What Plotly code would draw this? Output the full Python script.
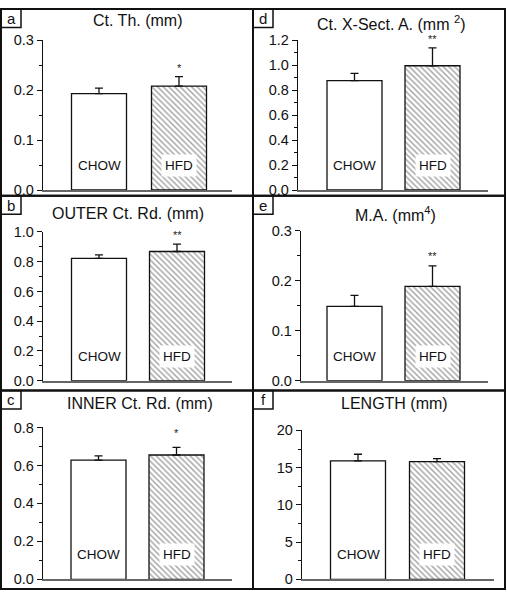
import plotly.graph_objects as go

W, H = 507, 599

categories = ["CHOW", "HFD"]
letters = ["a", "b", "c", "d", "e", "f"]
titles = ["Ct. Th. (mm)", "OUTER Ct. Rd. (mm)", "INNER Ct. Rd. (mm)",
          "Ct. X-Sect. A. (mm <sup>2</sup>)", "M.A. (mm<sup>4</sup>)", "LENGTH (mm)"]
chow_mean = [0.193, 0.822, 0.628, 0.875, 0.149, 15.9]
hfd_mean = [0.208, 0.868, 0.655, 0.995, 0.189, 15.8]
chow_err = [0.011, 0.023, 0.022, 0.058, 0.022, 0.9]
hfd_err = [0.019, 0.049, 0.040, 0.143, 0.041, 0.4]
stars = ["*", "**", "*", "**", "**", ""]
y_max = [0.3, 1.0, 0.8, 1.2, 0.3, 20]
y_dtick = [0.1, 0.2, 0.2, 0.2, 0.1, 5]
tick_fmt = [".1f", ".1f", ".1f", ".1f", ".1f", "d"]

# pixel layout: axis x0, x1, y top, y bottom, bar centre 0, bar centre 1, title x, title y, star shift
layout_px = [
    (43, 232, 33, 187, 99, 179, 137, 13, 1),
    (43, 232, 230, 383, 99, 177, 128, 211, 1),
    (43, 232, 431, 587, 98.5, 176.5, 140, 406, 6),
    (298, 488, 33, 187, 354.5, 432.5, 391, 15, 1),
    (301, 488, 229, 383, 354.5, 432.5, 395, 212, 2),
    (302, 494, 434, 587, 358, 437, 394, 406, 1),
]
bar_px = 55

FONT = "Arial, Liberation Sans, sans-serif"
fig = go.Figure()
annotations = []
shapes = []

def py(p):
    return 1 - p / H

def px(p):
    return p / W

for i in range(6):
    x0, x1, yt, yb, c0, c1, tx, ty, sshift = layout_px[i]
    unit = c1 - c0
    xr = [(x0 - c0) / unit, (x1 - c0) / unit]
    n = "" if i == 0 else str(i + 1)
    xa, ya = "x" + n, "y" + n
    fig.add_trace(go.Bar(
        x=[0], y=[chow_mean[i]], width=bar_px / unit,
        marker=dict(color="white", line=dict(color="#111", width=1.3)),
        error_y=dict(type="data", symmetric=False, array=[chow_err[i]], arrayminus=[0],
                     color="#111", thickness=1.3, width=4),
        xaxis=xa, yaxis=ya, showlegend=False, hoverinfo="skip"))
    fig.add_trace(go.Bar(
        x=[1], y=[hfd_mean[i]], width=bar_px / unit,
        marker=dict(color="white", line=dict(color="#111", width=1.3),
                    pattern=dict(shape="\\", size=4, solidity=0.35, fgcolor="#444", bgcolor="white")),
        error_y=dict(type="data", symmetric=False, array=[hfd_err[i]], arrayminus=[0],
                     color="#111", thickness=1.3, width=4),
        xaxis=xa, yaxis=ya, showlegend=False, hoverinfo="skip"))
    fig.layout["xaxis" + n] = dict(
        domain=[px(x0), px(x1)], range=xr, showticklabels=False, ticks="",
        showgrid=False, zeroline=False, showline=True, linecolor="#666", linewidth=2,
        anchor=ya, fixedrange=True)
    fig.layout["yaxis" + n] = dict(
        domain=[py(yb), py(yt)], range=[0, y_max[i]], dtick=y_dtick[i], tick0=0,
        tickformat=tick_fmt[i], ticks="outside", ticklen=5, tickwidth=1.3, tickcolor="#111",
        minor=dict(dtick=y_dtick[i] / 2, ticks="outside", ticklen=3, tickwidth=1, tickcolor="#111"),
        showgrid=False, zeroline=False, showline=True, linecolor="#111", linewidth=1.3,
        tickfont=dict(family=FONT, size=14.5, color="#111"), anchor=xa, fixedrange=True)
    # group labels
    for k, cat in enumerate(categories):
        ann = dict(
            x=k, y=py(yb - 25), xref=xa, yref="paper", text=cat, showarrow=False,
            font=dict(family=FONT, size=13.5, color="#111"),
            borderpad=3, xanchor="center", yanchor="middle")
        if k == 1:
            ann["bgcolor"] = "white"
        annotations.append(ann)
    # significance stars
    if stars[i]:
        annotations.append(dict(
            x=1, y=hfd_mean[i] + hfd_err[i], xref=xa, yref=ya, text=stars[i], showarrow=False,
            font=dict(family=FONT, size=11, color="#222"), xanchor="center", yanchor="bottom",
            yshift=sshift))
    # title
    annotations.append(dict(
        x=px(tx), y=py(ty), xref="paper", yref="paper", text=titles[i], showarrow=False,
        font=dict(family=FONT, size=16, color="#111"), xanchor="center", yanchor="middle"))

# panel frames and letter boxes
col_x = [(1, 253), (253, 505)]
row_y = [(1, 193), (193, 393), (393, 597)]
for c, (cx0, cx1) in enumerate(col_x):
    for r, (ry0, ry1) in enumerate(row_y):
        shapes.append(dict(type="rect", xref="paper", yref="paper",
                           x0=px(cx0), x1=px(cx1), y0=py(ry1), y1=py(ry0),
                           line=dict(color="#111", width=2)))
        shapes.append(dict(type="rect", xref="paper", yref="paper",
                           x0=px(cx0), x1=px(cx0 + 20), y0=py(ry0 + 19), y1=py(ry0),
                           line=dict(color="#111", width=1.5)))
        annotations.append(dict(
            x=px(cx0 + 10), y=py(ry0 + 9.5), xref="paper", yref="paper",
            text=letters[c * 3 + r], showarrow=False,
            font=dict(family=FONT, size=15, color="#111"), xanchor="center", yanchor="middle"))

fig.update_layout(
    width=W, height=H, margin=dict(l=0, r=0, t=0, b=0),
    paper_bgcolor="white", plot_bgcolor="white", barmode="overlay",
    annotations=annotations, shapes=shapes,
)
fig.write_html("out.html", config={"displayModeBar": False},
               post_script="document.documentElement.style.margin='0';"
                           "document.body.style.margin='0';"
                           "document.body.style.padding='0';"
                           "document.body.style.overflow='hidden';"
                           "var d=document.getElementById('{plot_id}');"
                           "d.style.position='fixed';d.style.top='0px';d.style.left='0px';")
